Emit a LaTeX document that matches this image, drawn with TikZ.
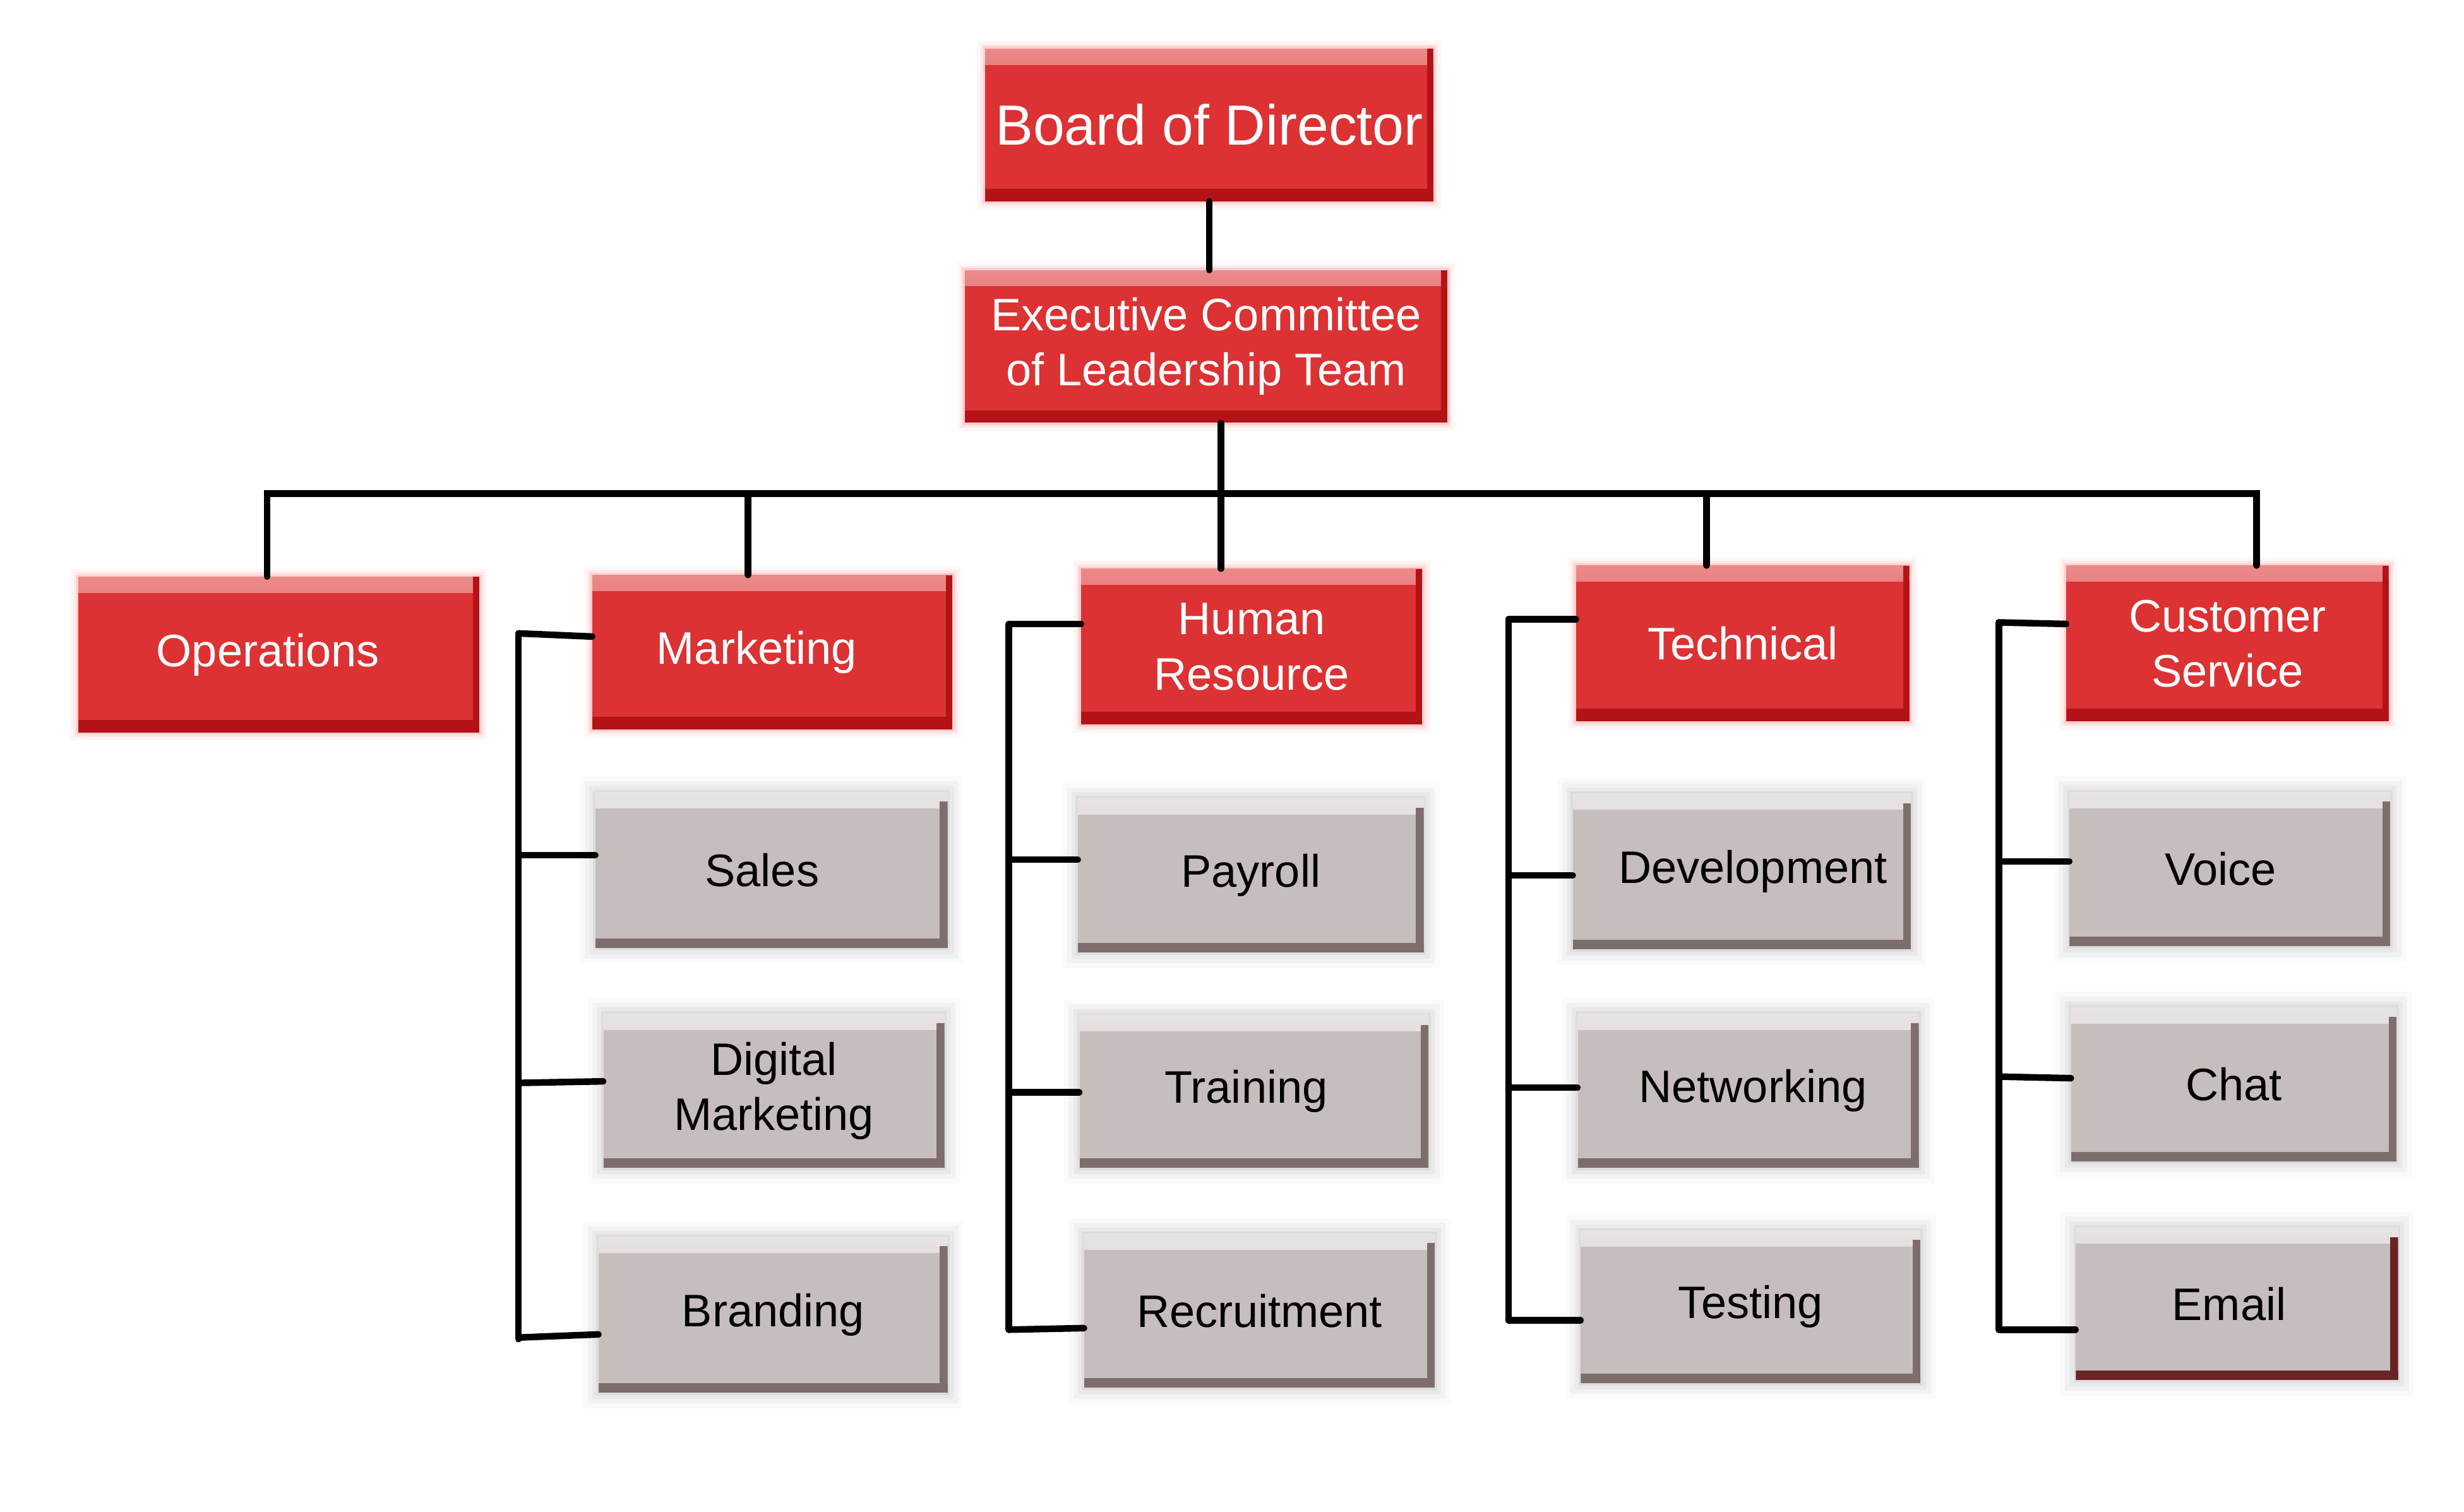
\documentclass[tikz,border=0pt]{standalone}
\usepackage{fontspec}
\setmainfont{Liberation Sans}
\begin{document}
\begin{tikzpicture}[x=1pt,y=-1pt]
\definecolor{rfill}{HTML}{DC3233}
\definecolor{rdark}{HTML}{B31216}
\definecolor{rlight}{HTML}{EB8A8A}
\definecolor{gfill}{HTML}{C6BDBD}
\definecolor{gdark}{HTML}{7D6D6D}
\definecolor{glight}{HTML}{E8E4E4}
\definecolor{edark}{HTML}{6A2426}
\tikzset{
  box/.style={inner sep=0pt, align=center, font=\fontsize{29}{35}\selectfont},
  redbox/.style={box, fill=rfill, text=white,
    preaction={draw=red, line width=10pt, opacity=0.04},
    preaction={draw=red, line width=6pt, opacity=0.06},
    preaction={draw=red, line width=3pt, opacity=0.10},
    path picture={
      \shade[top color=rlight, bottom color=rfill] ([yshift=-10pt]path picture bounding box.north west) rectangle (path picture bounding box.north east);
      \fill[rdark] ([xshift=-4pt]path picture bounding box.south east) rectangle (path picture bounding box.north east);
      \fill[rdark] (path picture bounding box.south west) rectangle ([yshift=8pt]path picture bounding box.south east);
    }},
  graybox/.style={box, fill=gfill, text=black,
    preaction={draw=black, line width=20pt, opacity=0.02},
    preaction={draw=black, line width=14pt, opacity=0.03},
    preaction={draw=black, line width=8pt, opacity=0.04},
    preaction={draw=black, line width=3pt, opacity=0.05},
    path picture={
      \shade[top color=glight, bottom color=gfill] ([yshift=-10pt]path picture bounding box.north west) rectangle (path picture bounding box.north east);
      \fill[#1] ([xshift=-5pt]path picture bounding box.south east) rectangle ([yshift=-6pt]path picture bounding box.north east);
      \fill[#1] (path picture bounding box.south west) rectangle ([yshift=6pt]path picture bounding box.south east);
    }},
  graybox/.default=gdark,
  conn/.style={line width=4.2pt, line cap=round, line join=miter, draw=black}
}
\useasboundingbox (0,0) rectangle (1568,962);
% top
\node[redbox, minimum width=285pt, minimum height=97pt, font=\fontsize{36}{40}\selectfont] (board) at (769.5,79.5) {Board of Director};
\node[redbox, minimum width=307pt, minimum height=97pt] (exec) at (767.5,220.5) {Executive Committee\\of Leadership Team};
% level 2
\node[redbox, minimum width=255pt, minimum height=99pt] (ops) at (177.5,416.5) {\hspace*{-14pt}Operations};
\node[redbox, minimum width=229pt, minimum height=98pt] (mkt) at (491.5,415) {\hspace*{-20pt}Marketing};
\node[redbox, minimum width=217pt, minimum height=99pt] (hr) at (796.5,411.5) {Human\\Resource};
\node[redbox, minimum width=212pt, minimum height=99pt] (tech) at (1109,409.5) {Technical};
\node[redbox, minimum width=205pt, minimum height=99pt] (cs) at (1417.5,409.5) {Customer\\Service};
% level 3
\node[graybox, minimum width=224pt, minimum height=99pt] (sales) at (491,553.5) {\hspace*{-12pt}Sales};
\node[graybox, minimum width=217pt, minimum height=98pt] (digital) at (492.5,694) {Digital\\Marketing};
\node[graybox, minimum width=222pt, minimum height=99pt] (brand) at (492,836.5) {Branding};
\node[graybox, minimum width=220pt, minimum height=98pt] (payroll) at (796,557) {Payroll};
\node[graybox, minimum width=222pt, minimum height=97pt] (training) at (798,694.5) {\hspace*{-10pt}Training};
\node[graybox, minimum width=223pt, minimum height=98pt] (recruit) at (801.5,834) {Recruitment};
\node[graybox, minimum width=215pt, minimum height=99pt] (dev) at (1108.5,554.5) {\hspace*{14pt}Development};
\node[graybox, minimum width=217pt, minimum height=98pt] (net) at (1112.5,694) {\hspace*{6pt}Networking};
\node[graybox, minimum width=216pt, minimum height=97pt] (test) at (1114,831.5) {Testing};
\node[graybox, minimum width=204pt, minimum height=98pt] (voice) at (1419,553) {\hspace*{-12pt}Voice};
\node[graybox, minimum width=207pt, minimum height=98pt] (chat) at (1421.5,690) {Chat};
\node[graybox=edark, minimum width=205pt, minimum height=97pt] (email) at (1423.5,829.5) {\hspace*{-10pt}Email};
% connectors top
\coordinate (bus) at (777,314);
\coordinate (busL) at (170,314);
\coordinate (busR) at (1436,314);
\draw[conn] (board.south) -- (board.south |- exec.north);
\draw[conn] (exec.south -| bus) -- (hr.north -| bus);
\draw[conn] (ops.north -| busL) -- (busL) -- (busR) -- (cs.north -| busR);
\draw[conn] (mkt.north -| 476,0) -- (476,314);
\draw[conn] (tech.north -| 1086,0) -- (1086,314);
% marketing group
\draw[conn] (330,403) -- (330,852);
\draw[conn] (330,403) -- (mkt.west |- 0,405);
\draw[conn] (330,544) -- (sales.west |- 0,544);
\draw[conn] (330,689) -- (digital.west |- 0,688);
\draw[conn] (330,851) -- (brand.west |- 0,849);
% HR group
\draw[conn] (642,397) -- (642,846);
\draw[conn] (642,397) -- (hr.west |- 0,397);
\draw[conn] (642,547) -- (payroll.west |- 0,547);
\draw[conn] (642,695) -- (training.west |- 0,695);
\draw[conn] (642,846) -- (recruit.west |- 0,845);
% Technical group
\draw[conn] (960,394) -- (960,840);
\draw[conn] (960,394) -- (tech.west |- 0,394);
\draw[conn] (960,557) -- (dev.west |- 0,557);
\draw[conn] (960,692) -- (net.west |- 0,692);
\draw[conn] (960,840) -- (test.west |- 0,840);
% Customer service group
\draw[conn] (1272,396) -- (1272,846);
\draw[conn] (1272,396) -- (cs.west |- 0,397);
\draw[conn] (1272,548) -- (voice.west |- 0,548);
\draw[conn] (1272,685) -- (chat.west |- 0,686);
\draw[conn] (1272,846) -- (email.west |- 0,846);
\end{tikzpicture}
\end{document}
